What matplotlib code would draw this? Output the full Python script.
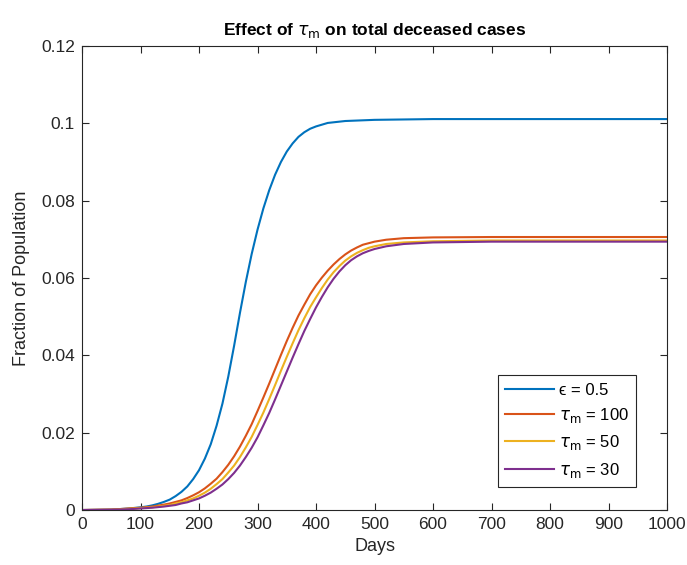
import matplotlib
matplotlib.use('Agg')
import matplotlib.pyplot as plt
from matplotlib.ticker import FuncFormatter

plt.rcParams['font.family'] = ['Liberation Sans', 'DejaVu Sans']
plt.rcParams['mathtext.fontset'] = 'dejavusans'

# deceased fraction over time, epsilon = 0.5 run
days_eps = [0, 50, 80, 100, 110, 120, 130, 140, 150, 160, 170, 180, 190, 200,
            210, 220, 230, 240, 250, 260, 270, 280, 290, 300, 310, 320, 330,
            340, 350, 360, 370, 380, 390, 400, 420, 450, 500, 600, 700, 1000]
dead_eps = [0, 0.0001, 0.0004, 0.0007, 0.0009, 0.0012, 0.0016, 0.0021, 0.0027,
            0.0036, 0.0047, 0.0061, 0.0080, 0.0103, 0.0133, 0.0170, 0.0218,
            0.0275, 0.0345, 0.0425, 0.0510, 0.0590, 0.0662, 0.0725, 0.0780,
            0.0827, 0.0867, 0.0900, 0.0927, 0.0948, 0.0965, 0.0977, 0.0986,
            0.0992, 0.1001, 0.1006, 0.1009, 0.1011, 0.1011, 0.1011]

# tau_m runs share one time grid
days_tau = [0, 50, 80, 100, 120, 140, 150, 160, 170, 180, 190, 200, 210, 220,
            230, 240, 250, 260, 270, 280, 290, 300, 310, 320, 330, 340, 350,
            360, 370, 380, 390, 400, 410, 420, 430, 440, 450, 460, 470, 480,
            490, 500, 520, 550, 600, 700, 1000]
dead_tau100 = [0, 0.0001, 0.0004, 0.0006, 0.0009, 0.0014, 0.0017, 0.0021,
               0.0025, 0.0031, 0.0038, 0.0046, 0.0056, 0.0068, 0.0081, 0.0098,
               0.0117, 0.0139, 0.0164, 0.0192, 0.0222, 0.0256, 0.0291, 0.0327,
               0.0364, 0.0401, 0.0437, 0.0471, 0.0503, 0.0531, 0.0558, 0.0581,
               0.0601, 0.0619, 0.0635, 0.0649, 0.0661, 0.0671, 0.0679, 0.0686,
               0.0690, 0.0694, 0.0699, 0.0703, 0.0705, 0.0706, 0.0706]
dead_tau50 = [0, 0.0001, 0.0003, 0.0005, 0.0007, 0.0011, 0.0013, 0.0017,
              0.0020, 0.0025, 0.0030, 0.0037, 0.0045, 0.0055, 0.0067, 0.0080,
              0.0097, 0.0115, 0.0137, 0.0162, 0.0189, 0.0220, 0.0252, 0.0287,
              0.0323, 0.0360, 0.0396, 0.0431, 0.0465, 0.0496, 0.0525, 0.0550,
              0.0574, 0.0596, 0.0615, 0.0631, 0.0645, 0.0656, 0.0665, 0.0672,
              0.0678, 0.0682, 0.0688, 0.0692, 0.0695, 0.0697, 0.0697]
dead_tau30 = [0, 0.0001, 0.0002, 0.0004, 0.0006, 0.0009, 0.0011, 0.0013,
              0.0017, 0.0020, 0.0025, 0.0030, 0.0037, 0.0045, 0.0055, 0.0066,
              0.0080, 0.0096, 0.0115, 0.0137, 0.0161, 0.0188, 0.0219, 0.0251,
              0.0286, 0.0322, 0.0358, 0.0394, 0.0429, 0.0463, 0.0494, 0.0524,
              0.0551, 0.0576, 0.0598, 0.0617, 0.0633, 0.0646, 0.0656, 0.0664,
              0.0670, 0.0675, 0.0682, 0.0688, 0.0692, 0.0694, 0.0694]

x_ticks = [0, 100, 200, 300, 400, 500, 600, 700, 800, 900, 1000]
y_ticks = [0, 0.02, 0.04, 0.06, 0.08, 0.1, 0.12]

fig = plt.figure(figsize=(6.87, 5.65), dpi=100)
ax = fig.add_axes([0.1194, 0.0973, 0.8515, 0.8213])

ax.plot(days_eps, dead_eps, color='#0072BD', lw=1.5, label='\u03f5 = 0.5')
ax.plot(days_tau, dead_tau100, color='#D95319', lw=1.5, label=r'$\tau_\mathrm{m}$ = 100')
ax.plot(days_tau, dead_tau50, color='#EDB120', lw=1.5, label=r'$\tau_\mathrm{m}$ = 50')
ax.plot(days_tau, dead_tau30, color='#7E2F8E', lw=1.5, label=r'$\tau_\mathrm{m}$ = 30')

ax.set_xlim(0, 1000)
ax.set_ylim(0, 0.12)
ax.set_xticks(x_ticks)
ax.set_yticks(y_ticks)
ax.yaxis.set_major_formatter(FuncFormatter(lambda v, p: '%g' % round(v, 4)))

grey = '#262626'
for s in ax.spines.values():
    s.set_color(grey)
    s.set_linewidth(0.8)
ax.tick_params(direction='in', length=5, width=0.8, colors=grey,
               labelsize=12.5, top=True, right=True, pad=5)

ax.set_xlabel('Days', fontsize=13, color=grey, labelpad=4)
ax.set_ylabel('Fraction of Population', fontsize=13, color=grey, labelpad=8)
ax.set_title(r'Effect of $\tau_\mathrm{m}$ on total deceased cases',
             fontsize=12.5, fontweight='bold', pad=8)

leg = ax.legend(loc='lower right', bbox_to_anchor=(0.947, 0.0496),
                borderaxespad=0, fontsize=12, handlelength=2.9,
                fancybox=False, framealpha=1, labelspacing=0.5,
                handletextpad=0.3, borderpad=0.45)
leg.get_frame().set_edgecolor(grey)
leg.get_frame().set_linewidth(0.8)

fig.savefig('out.png', dpi=100)
